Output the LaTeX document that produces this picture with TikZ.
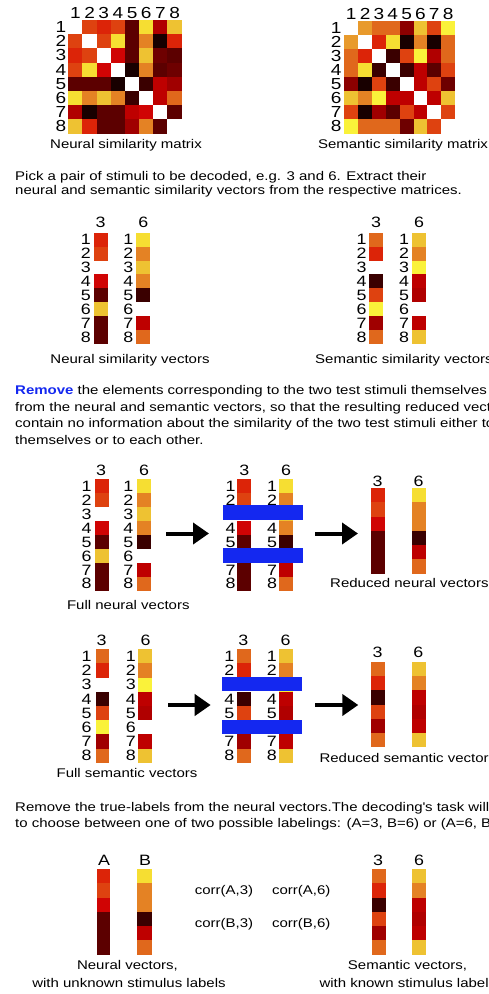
\documentclass[tikz,border=0pt]{standalone}
\usepackage{fontspec}
\setmainfont[FakeStretch=1.19]{Liberation Sans}
\usetikzlibrary{arrows.meta}
\definecolor{hW}{HTML}{FFFFFF}
\definecolor{hyl}{HTML}{FAF23A}
\definecolor{hyw}{HTML}{F6DE32}
\definecolor{hgd}{HTML}{EEC232}
\definecolor{hlo}{HTML}{E89A2C}
\definecolor{hor}{HTML}{E48224}
\definecolor{hoo}{HTML}{E0681C}
\definecolor{hro}{HTML}{DE4210}
\definecolor{hrd}{HTML}{DC2408}
\definecolor{hr2}{HTML}{D00404}
\definecolor{hr3}{HTML}{BE0000}
\definecolor{hr4}{HTML}{B00000}
\definecolor{hdr}{HTML}{A00000}
\definecolor{hd9}{HTML}{8C0000}
\definecolor{hmr}{HTML}{6E0000}
\definecolor{hm2}{HTML}{5C0000}
\definecolor{hdk}{HTML}{3A0000}
\definecolor{hbk}{HTML}{180000}
\definecolor{hblue}{HTML}{1428F0}
\newcommand\hmat[5]{%
  \foreach \hrow [count=\r] in {#5} {
    \foreach \hc [count=\k] in \hrow {
      \fill[\hc] ({#1+(\k-1)*#3},{#2+(\r-1)*#4}) rectangle ++(#3+0.2,#4+0.2);
    }}}
\newcommand\hvec[5]{%
  \foreach \hc [count=\i] in {#5} {\fill[\hc] ({#1},{#2+(\i-1)*#4}) rectangle ++(#3,#4+0.2);}}
\newcommand\hlab[5]{%
  \foreach \hl [count=\i] in {#4} {\node[dig,anchor=east] (#5-\i) at ({#1},{#2+(\i-0.5)*#3}) {\hl};}}
\tikzset{
  txt/.style={font=\fontsize{12.6}{15}\selectfont, inner sep=0pt},
  dig/.style={font=\fontsize{15}{15}\selectfont, inner sep=0pt},
  mdig/.style={font=\fontsize{16}{16}\selectfont, inner sep=0pt},
  bigarrow/.style={line width=4pt, -{Triangle[length=16pt,width=21pt]}},
  bluebar/.style={fill=hblue}
}
\begin{document}
\begin{tikzpicture}[x=1pt,y=-1pt]
\useasboundingbox (0,0) rectangle (489,994);
\clip (0,0) rectangle (489,994);
\fill[white] (0,0) rectangle (489,994);

% ---- matrices
\hmat{68.3}{20}{14.17}{14.17}{{hW,hro,hrd,hro,hm2,hyw,hr4,hgd},{hro,hW,hro,hyw,hm2,hor,hbk,hrd},{hrd,hro,hW,hr2,hm2,hgd,hmr,hm2},{hro,hyw,hr2,hW,hbk,hor,hm2,hmr},{hm2,hm2,hm2,hbk,hW,hdk,hr3,hdr},{hyw,hor,hgd,hor,hdk,hW,hr3,hoo},{hr4,hbk,hm2,hm2,hr3,hr2,hW,hm2},{hgd,hrd,hm2,hm2,hdr,hor,hm2,hW}}
\foreach \j in {1,...,8} {
  \node[mdig,anchor=base] (nc\j) at ({68.3+(\j-0.5)*14.17},18) {\j};
  \node[mdig,anchor=east] (nr\j) at (66.5,{20+(\j-0.5)*14.17}) {\j};
}
\hmat{344.3}{20.7}{13.84}{14.08}{{hW,hlo,hoo,hoo,hd9,hgd,hro,hyl},{hlo,hW,hrd,hyw,hbk,hor,hbk,hoo},{hoo,hrd,hW,hdk,hro,hyl,hr4,hoo},{hoo,hyw,hdk,hW,hdk,hr3,hm2,hro},{hd9,hbk,hro,hdk,hW,hr3,hro,hmr},{hgd,hor,hyl,hr3,hr3,hW,hr3,hgd},{hro,hbk,hdr,hm2,hro,hr3,hW,hro},{hyl,hoo,hoo,hoo,hmr,hgd,hro,hW}}
\foreach \j in {1,...,8} {
  \node[mdig,anchor=base] (sc\j) at ({344.3+(\j-0.5)*13.84},19) {\j};
  \node[mdig,anchor=east] (sr\j) at (341.7,{20.7+(\j-0.5)*14.08}) {\j};
}
\node[txt,anchor=base] (tn) at (126,148.5) {Neural similarity matrix};
\node[txt,anchor=base] (ts) at (403,148.5) {Semantic similarity matrix};

% ---- paragraph 1
\node[txt,anchor=base west] (p1a) at (15,180.5) {Pick a pair of stimuli to be decoded, e.g. 3 and 6. Extract their};
\node[txt,anchor=base west] (p1b) at (15,194.5) {neural and semantic similarity vectors from the respective matrices.};

% ---- similarity vectors
\hvec{93.5}{232.7}{14}{13.9}{hrd,hro,hW,hr2,hm2,hgd,hm2,hm2}
\hvec{136.3}{232.7}{14}{13.9}{hyw,hor,hgd,hor,hdk,hW,hr3,hoo}
\hlab{91}{232.7}{13.9}{1,2,3,4,5,6,7,8}{a}
\hlab{133.5}{232.7}{13.9}{1,2,3,4,5,6,7,8}{b}
\node[dig,anchor=base] (a3) at (100.5,227) {3};
\node[dig,anchor=base] (a6) at (143.3,227) {6};
\hvec{369}{232.7}{13.8}{13.9}{hoo,hrd,hW,hdk,hro,hyl,hdr,hoo}
\hvec{411.7}{232.7}{14}{13.9}{hgd,hor,hyl,hr3,hr4,hW,hr3,hgd}
\hlab{366.7}{232.7}{13.9}{1,2,3,4,5,6,7,8}{c}
\hlab{409.3}{232.7}{13.9}{1,2,3,4,5,6,7,8}{d}
\node[dig,anchor=base] (c3) at (376,227) {3};
\node[dig,anchor=base] (c6) at (419,227) {6};
\node[txt,anchor=base] (capnv) at (130,363) {Neural similarity vectors};
\node[txt,anchor=base west] (capsv) at (315,363) {Semantic similarity vectors};

% ---- paragraph 2
\node[txt,anchor=base west] (p2a) at (15,394.5) {\textbf{\color{hblue}Remove} the elements corresponding to the two test stimuli themselves};
\node[txt,anchor=base west] (p2b) at (15,411) {from the neural and semantic vectors, so that the resulting reduced vectors};
\node[txt,anchor=base west] (p2c) at (15,427.5) {contain no information about the similarity of the two test stimuli either to};
\node[txt,anchor=base west] (p2d) at (15,444) {themselves or to each other.};

% ---- neural removal
\hvec{94.7}{479.3}{13.8}{13.93}{hrd,hro,hW,hr2,hm2,hgd,hm2,hm2}
\hvec{136.7}{479.3}{14}{13.93}{hyw,hor,hgd,hor,hdk,hW,hr3,hoo}
\hlab{91.7}{479.3}{13.93}{1,2,3,4,5,6,7,8}{e}
\hlab{133.5}{479.3}{13.93}{1,2,3,4,5,6,7,8}{f}
\node[dig,anchor=base] (e3) at (101,475) {3};
\node[dig,anchor=base] (e6) at (144,475) {6};
\node[txt,anchor=base] (capfn) at (128.3,609) {Full neural vectors};
\coordinate (n1s) at (166,533.5);
\coordinate (n1e) at (209,533.5);
\draw[bigarrow] (n1s) -- (n1e);
\hvec{237.3}{479.3}{13.4}{13.93}{hrd,hro,hW,hr2,hm2,hgd,hm2,hm2}
\hvec{279.3}{479.3}{14}{13.93}{hyw,hor,hgd,hor,hdk,hW,hr3,hoo}
\hlab{235.7}{479.3}{13.93}{1,2,3,4,5,6,7,8}{g}
\hlab{277.3}{479.3}{13.93}{1,2,3,4,5,6,7,8}{h}
\node[dig,anchor=base] (g3) at (244.3,475) {3};
\node[dig,anchor=base] (g6) at (286,475) {6};
\fill[bluebar] (222.7,505) rectangle (303.3,520);
\fill[bluebar] (222.7,548.3) rectangle (303.3,563.3);
\coordinate (n2s) at (315,533.5);
\coordinate (n2e) at (358,533.5);
\draw[bigarrow] (n2s) -- (n2e);
\hvec{370.7}{488.3}{14.3}{14.17}{hrd,hro,hr2,hm2,hm2,hm2}
\hvec{411.7}{488.3}{14.3}{14.17}{hyw,hor,hor,hdk,hr3,hoo}
\node[dig,anchor=base] (i3) at (377.7,486.5) {3};
\node[dig,anchor=base] (i6) at (418.5,486.5) {6};
\node[txt,anchor=base west] (caprn) at (330,587.5) {Reduced neural vectors};

% ---- semantic removal
\hvec{95.5}{649.3}{13.8}{14.17}{hoo,hrd,hW,hdk,hro,hyl,hdr,hoo}
\hvec{138}{649.3}{14}{14.17}{hgd,hor,hyl,hr3,hr4,hW,hr3,hgd}
\hlab{91.7}{649.3}{14.17}{1,2,3,4,5,6,7,8}{j}
\hlab{136}{649.3}{14.17}{1,2,3,4,5,6,7,8}{k}
\node[dig,anchor=base] (j3) at (101.7,645) {3};
\node[dig,anchor=base] (j6) at (145.7,645) {6};
\node[txt,anchor=base] (capfs) at (127,777.5) {Full semantic vectors};
\coordinate (s1s) at (168.3,705);
\coordinate (s1e) at (210.7,705);
\draw[bigarrow] (s1s) -- (s1e);
\hvec{237.3}{649.3}{13.4}{14.17}{hoo,hrd,hW,hdk,hro,hyl,hdr,hoo}
\hvec{279.3}{649.3}{14}{14.17}{hgd,hor,hyl,hr3,hr4,hW,hr3,hgd}
\hlab{234.5}{649.3}{14.17}{1,2,3,4,5,6,7,8}{l}
\hlab{277}{649.3}{14.17}{1,2,3,4,5,6,7,8}{m}
\node[dig,anchor=base] (l3) at (243.3,645) {3};
\node[dig,anchor=base] (l6) at (285.7,645) {6};
\fill[bluebar] (221.7,677.3) rectangle (302.3,691);
\fill[bluebar] (221.7,720) rectangle (302.3,734);
\coordinate (s2s) at (315,705);
\coordinate (s2e) at (358.3,705);
\draw[bigarrow] (s2s) -- (s2e);
\hvec{371}{662.3}{14}{14.07}{hoo,hrd,hdk,hro,hdr,hoo}
\hvec{411.7}{662.3}{14}{14.07}{hgd,hor,hr3,hr4,hr3,hgd}
\node[dig,anchor=base] (o3) at (377.7,657.5) {3};
\node[dig,anchor=base] (o6) at (418.3,657.5) {6};
\node[txt,anchor=base west] (caprs) at (319.3,762.5) {Reduced semantic vectors};

% ---- paragraph 3
\node[txt,anchor=base west] (p3a) at (15,811.5) {Remove the true-labels from the neural vectors.The decoding\textquotesingle s task will be};
\node[txt,anchor=base west] (p3b) at (15,827) {to choose between one of two possible labelings: (A=3, B=6) or (A=6, B=3).};

% ---- decoding
\hvec{96.7}{869.3}{13.3}{14.17}{hrd,hro,hr2,hm2,hm2,hm2}
\hvec{136.7}{869.3}{15}{14.17}{hyw,hor,hor,hdk,hr3,hoo}
\node[dig,anchor=base] (qa) at (104,865) {A};
\node[dig,anchor=base] (qb) at (145,865) {B};
\node[txt,anchor=base] (ca3) at (224,894) {corr(A,3)};
\node[txt,anchor=base] (ca6) at (301.3,894) {corr(A,6)};
\node[txt,anchor=base] (cb3) at (224,927.5) {corr(B,3)};
\node[txt,anchor=base] (cb6) at (301.3,927.5) {corr(B,6)};
\hvec{371.7}{869.3}{14}{14.17}{hoo,hrd,hdk,hro,hdr,hoo}
\hvec{411.7}{869.3}{14}{14.17}{hgd,hor,hr3,hr4,hr3,hgd}
\node[dig,anchor=base] (r3) at (378,865) {3};
\node[dig,anchor=base] (r6) at (419,865) {6};
\node[txt,anchor=base] (cnv1) at (127.5,969.5) {Neural vectors,};
\node[txt,anchor=base] (cnv2) at (129,987.5) {with unknown stimulus labels};
\node[txt,anchor=base] (csv1) at (407.5,969.5) {Semantic vectors,};
\node[txt,anchor=base west] (csv2) at (319.3,987.5) {with known stimulus labels};
\end{tikzpicture}
\end{document}
